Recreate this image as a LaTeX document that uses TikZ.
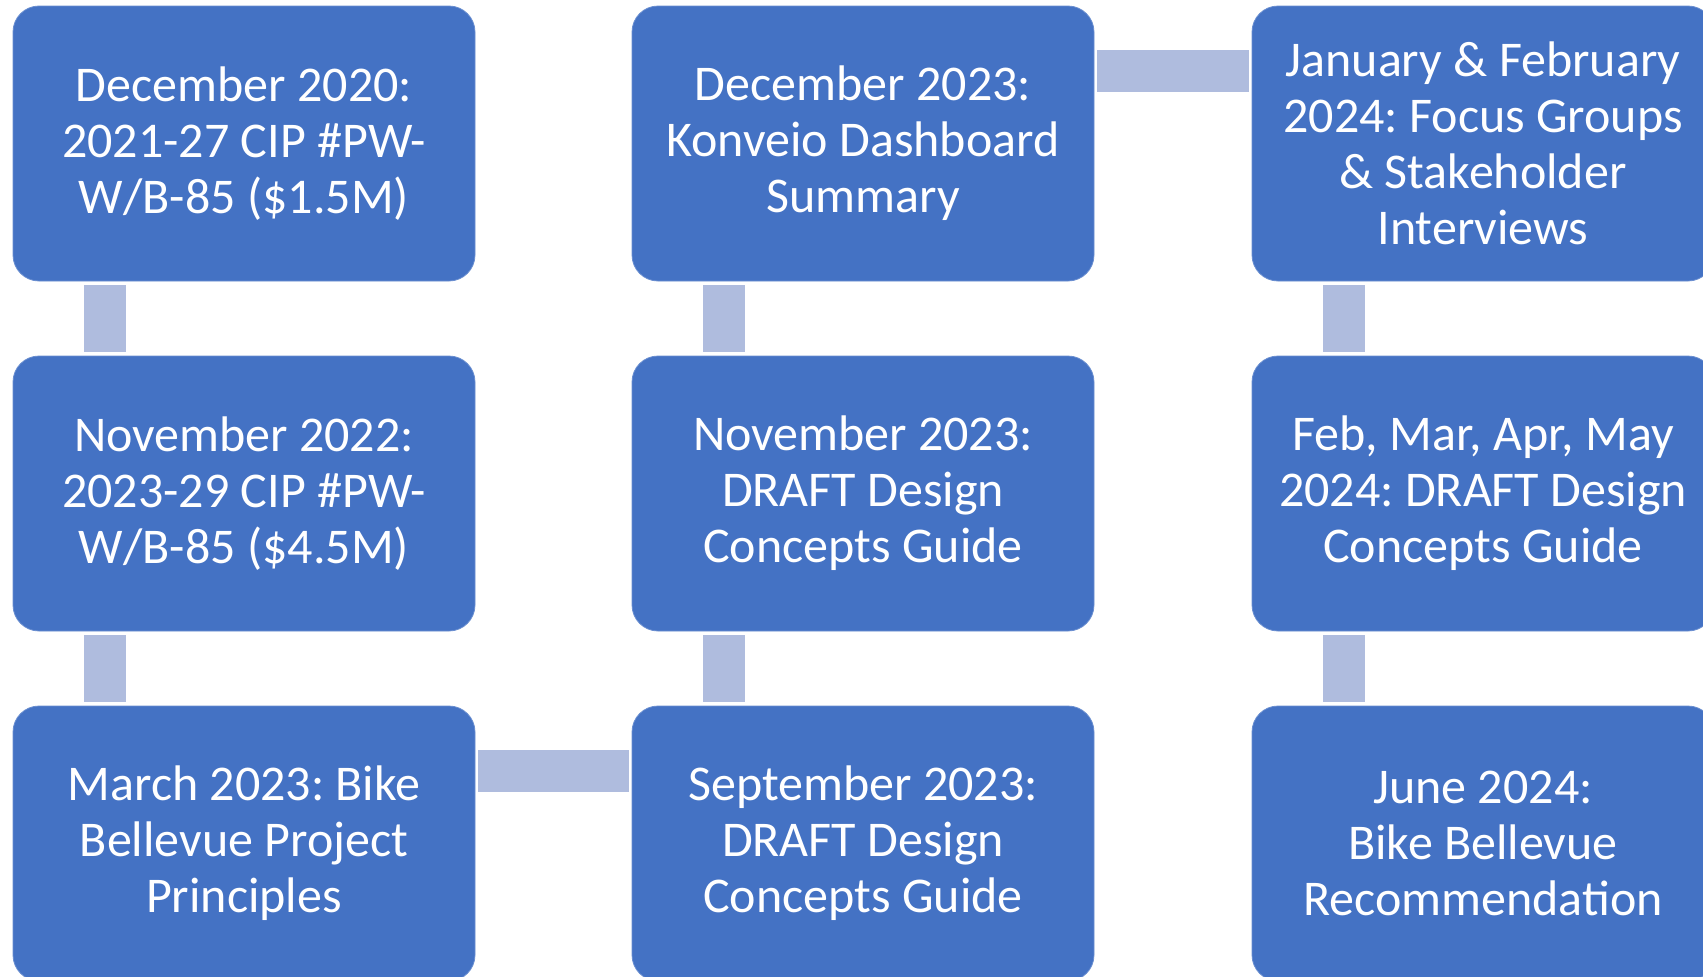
\documentclass[tikz,border=0pt]{standalone}
\usepackage{fontspec}
\setmainfont{Carlito}
\frenchspacing
\definecolor{boxblue}{HTML}{4472C4}
\definecolor{connblue}{HTML}{AFBCDE}
\begin{document}
\begin{tikzpicture}[x=1pt,y=-1pt,
  stagebox/.style={rectangle, rounded corners=26pt, fill=boxblue, draw=boxblue!80!white, line width=0.8pt,
    minimum width=462pt, minimum height=275pt, inner sep=0pt, text=white, align=center,
    font=\fontsize{50}{56}\selectfont\frenchspacing},
  conn/.style={draw=connblue, line width=42pt}]
\path[use as bounding box, clip] (0,0) rectangle (1703,977);
\fill[white] (0,0) rectangle (1703,977);

\node[stagebox] (a1) at (244,143.5) {December 2020:\\2021-27 CIP \#PW-\\W/B-85 (\$1.5M)};
\node[stagebox] (a2) at (244,493.5) {November 2022:\\2023-29 CIP \#PW-\\W/B-85 (\$4.5M)};
\node[stagebox] (a3) at (244,843.5) {March 2023: Bike\\Bellevue Project\\Principles};
\node[stagebox] (b3) at (863,843.5) {September 2023:\\DRAFT Design\\Concepts Guide};
\node[stagebox] (b2) at (863,493.5) {November 2023:\\DRAFT Design\\Concepts Guide};
\node[stagebox] (b1) at (863,143.5) {December 2023:\\Konveio Dashboard\\Summary};
\node[stagebox] (c1) at (1483,143.5) {January \& February\\2024: Focus Groups\\\& Stakeholder\\Interviews};
\node[stagebox] (c2) at (1483,493.5) {Feb, Mar, Apr, May\\2024: DRAFT Design\\Concepts Guide};
\node[stagebox] (c3) at (1483,843.5) {June 2024:\\Bike Bellevue\\Recommendation};

\draw[conn, shorten <=4pt, shorten >=4pt] ([xshift=92.5pt]a1.south west) -- ([xshift=92.5pt]a2.north west);
\draw[conn, shorten <=4pt, shorten >=4pt] ([xshift=92.5pt]a2.south west) -- ([xshift=92.5pt]a3.north west);
\draw[conn, shorten <=3pt, shorten >=3pt] ([yshift=-65pt]a3.north east) -- ([yshift=-65pt]b3.north west);
\draw[conn, shorten <=4pt, shorten >=4pt] ([xshift=92.5pt]b3.north west) -- ([xshift=92.5pt]b2.south west);
\draw[conn, shorten <=4pt, shorten >=4pt] ([xshift=92.5pt]b2.north west) -- ([xshift=92.5pt]b1.south west);
\draw[conn, shorten <=3pt, shorten >=3pt] ([yshift=-65.5pt]b1.north east) -- ([yshift=-65.5pt]c1.north west);
\draw[conn, shorten <=4pt, shorten >=4pt] ([xshift=92.5pt]c1.south west) -- ([xshift=92.5pt]c2.north west);
\draw[conn, shorten <=4pt, shorten >=4pt] ([xshift=92.5pt]c2.south west) -- ([xshift=92.5pt]c3.north west);
\end{tikzpicture}
\end{document}
